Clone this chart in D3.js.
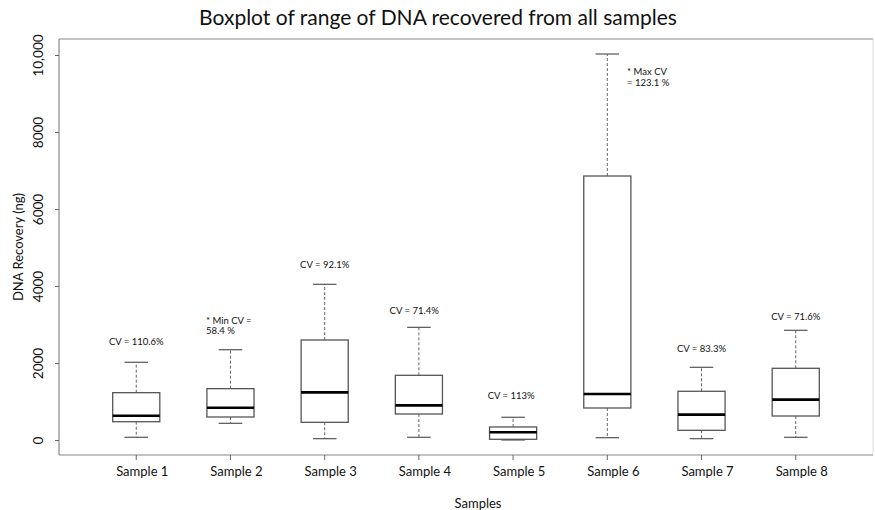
<!DOCTYPE html>
<html>
<head>
<meta charset="utf-8">
<script src="https://cdn.jsdelivr.net/npm/d3@7/dist/d3.min.js"></script>
<style>
  html, body { margin: 0; padding: 0; background: #fff; }
  svg { display: block; font-family: Lato, "Open Sans", sans-serif; }
</style>
</head>
<body>
<svg id="chart" width="875" height="510"></svg>
<script>
// ---- data ----
const samples = ["Sample 1", "Sample 2", "Sample 3", "Sample 4", "Sample 5", "Sample 6", "Sample 7", "Sample 8"];
const lowerWhisker = [70, 433, 34, 70, 0, 60, 34, 70];
const q1 = [475, 597, 459, 675, 18, 831, 251, 623];
const median = [631, 839, 1238, 900, 200, 1195, 658, 1048];
const q3 = [1229, 1333, 2597, 1680, 338, 6857, 1265, 1862];
const upperWhisker = [2018, 2345, 4044, 2926, 590, 10026, 1888, 2849];
const yTicks = [0, 2000, 4000, 6000, 8000, 10000];
const yTickLabels = ["0", "2000", "4000", "6000", "8000", "10,000"];
const cvLabels = [["CV = 110.6%"], ["* Min CV =", "58.4 %"], ["CV = 92.1%"], ["CV = 71.4%"],
                  ["CV = 113%"], ["* Max CV", "= 123.1 %"], ["CV = 83.3%"], ["CV = 71.6%"]];
const cvX = [1, 1.74, 3, 3.95, 4.98, 6.21, 7, 8];       // in sample-index units
const cvY = [2545, 2969, 4545, 3369, 1151, 9423, 2364, 3203]; // in ng
const titleText = "Boxplot of range of DNA recovered from all samples";
const xTitle = "Samples";
const yTitle = "DNA Recovery (ng)";

(function () {
// ---- layout ----
const svg = d3.select("#chart");
const pL = 59, pR = 873, pT = 39, pB = 455;

const xIdx = d3.scaleLinear().domain([0.18, 8.82]).range([pL, pR]);
const x = d3.scaleBand().domain(samples).range([xIdx(0.5), xIdx(8.5)]).padding(0);
const y = d3.scaleLinear().domain([-390, 10416]).range([pB, pT]);

const boxW = x.bandwidth() * 0.5;
const capW = boxW * 0.5;
const cx = s => x(s) + x.bandwidth() / 2;

// frame
svg.append("line").attr("x1", pL).attr("x2", pR).attr("y1", pT).attr("y2", pT)
  .attr("stroke", "#888").attr("stroke-width", 1.2);
svg.append("line").attr("x1", pR).attr("x2", pR).attr("y1", pT).attr("y2", pB)
  .attr("stroke", "#ddd").attr("stroke-width", 1);

// axes
const yAxis = d3.axisLeft(y).tickValues(yTicks).tickSize(4).tickSizeOuter(0)
  .tickFormat((d, i) => yTickLabels[i]);
const gy = svg.append("g").attr("transform", `translate(${pL},0)`).call(yAxis);
gy.select(".domain").attr("d", `M0,${pT}V${pB}`).attr("stroke", "#888").attr("stroke-width", 1.2);
gy.selectAll(".tick line").attr("stroke", "#666");
gy.selectAll(".tick text")
  .attr("x", 0).attr("y", 0).attr("dy", 0)
  .attr("transform", "translate(-16,0) rotate(-90)")
  .attr("text-anchor", "middle")
  .attr("font-size", 13.5).attr("fill", "#111")
  .attr("font-family", "Lato, sans-serif");

const xAxis = d3.axisBottom(x).tickSize(5).tickSizeOuter(0);
const gx = svg.append("g").attr("transform", `translate(0,${pB})`).call(xAxis);
gx.select(".domain").attr("d", `M${pL},0H${pR}`).attr("stroke", "#888").attr("stroke-width", 1.2);
gx.selectAll(".tick line").attr("stroke", "#666");
gx.selectAll(".tick text")
  .attr("y", 16).attr("dy", "0.35em").attr("dx", 6)
  .attr("font-size", 13).attr("fill", "#111")
  .attr("font-family", "Lato, sans-serif");

// boxes
const g = svg.append("g");
const items = samples.map((s, i) => ({ s, lo: lowerWhisker[i], q1: q1[i], med: median[i], q3: q3[i], hi: upperWhisker[i] }));
const bx = g.selectAll(".bx").data(items).join("g").attr("class", "bx");

bx.append("line").attr("x1", d => cx(d.s)).attr("x2", d => cx(d.s))
  .attr("y1", d => y(d.q3)).attr("y2", d => y(d.hi))
  .attr("stroke", "#666").attr("stroke-width", 1).attr("stroke-dasharray", "3,2");
bx.append("line").attr("x1", d => cx(d.s)).attr("x2", d => cx(d.s))
  .attr("y1", d => y(d.q1)).attr("y2", d => y(d.lo))
  .attr("stroke", "#666").attr("stroke-width", 1).attr("stroke-dasharray", "3,2");
bx.append("line").attr("x1", d => cx(d.s) - capW / 2).attr("x2", d => cx(d.s) + capW / 2)
  .attr("y1", d => y(d.hi)).attr("y2", d => y(d.hi))
  .attr("stroke", "#555").attr("stroke-width", 1.2);
bx.append("line").attr("x1", d => cx(d.s) - capW / 2).attr("x2", d => cx(d.s) + capW / 2)
  .attr("y1", d => y(d.lo)).attr("y2", d => y(d.lo))
  .attr("stroke", "#555").attr("stroke-width", 1.2);
bx.append("rect").attr("x", d => cx(d.s) - boxW / 2).attr("width", boxW)
  .attr("y", d => y(d.q3)).attr("height", d => y(d.q1) - y(d.q3))
  .attr("fill", "#fff").attr("stroke", "#555").attr("stroke-width", 1.3);
bx.append("line").attr("x1", d => cx(d.s) - boxW / 2).attr("x2", d => cx(d.s) + boxW / 2)
  .attr("y1", d => y(d.med)).attr("y2", d => y(d.med))
  .attr("stroke", "#000").attr("stroke-width", 2.6);

// CV annotations
cvLabels.forEach((lines, i) => {
  const anchor = lines.length > 1 ? "start" : "middle";
  const t = svg.append("text")
    .attr("x", xIdx(cvX[i])).attr("y", y(cvY[i]))
    .attr("text-anchor", anchor)
    .attr("font-size", 9.5).attr("fill", "#111");
  const n = lines.length;
  lines.forEach((ln, j) => {
    t.append("tspan").attr("x", xIdx(cvX[i]))
      .attr("dy", j === 0 ? `${0.35 - (n - 1) * 0.55}em` : "1.1em")
      .text(ln);
  });
});

// titles
svg.append("text").attr("x", 438).attr("y", 18).attr("dy", "0.35em")
  .attr("text-anchor", "middle").attr("font-size", 21).attr("fill", "#111").text(titleText);
svg.append("text").attr("x", 478).attr("y", 503).attr("dy", "0.35em")
  .attr("text-anchor", "middle").attr("font-size", 13).attr("fill", "#111").text(xTitle);
svg.append("text").attr("transform", `translate(18,${(pT + pB) / 2}) rotate(-90)`)
  .attr("dy", "0.35em").attr("text-anchor", "middle").attr("font-size", 13).attr("fill", "#111").text(yTitle);
})();
</script>
</body>
</html>
